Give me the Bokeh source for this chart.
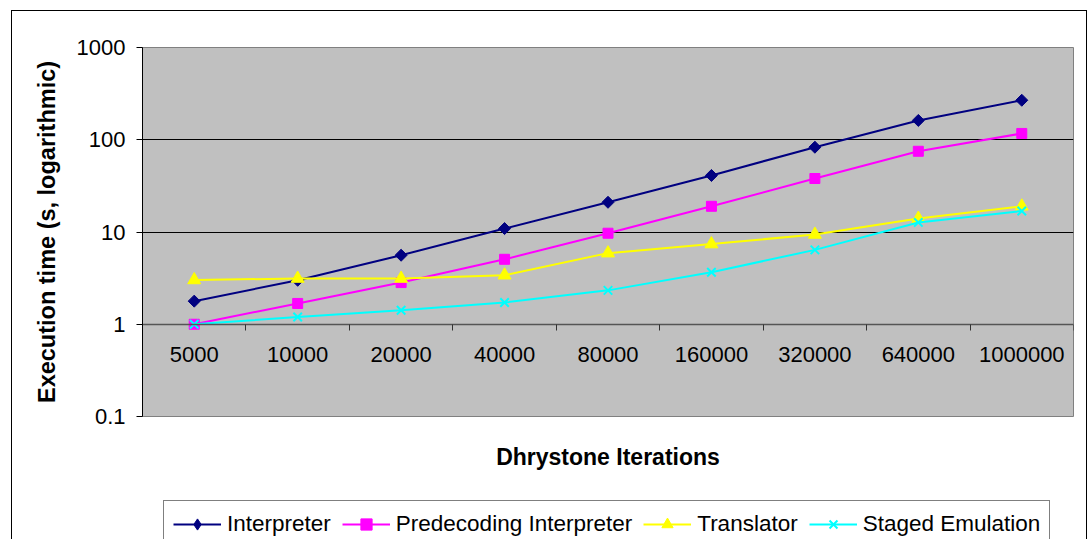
import numpy as np
from bokeh.plotting import figure
from bokeh.layouts import column
from bokeh.models import (Range1d, FixedTicker, LinearAxis, NumeralTickFormatter,
                          Legend, LegendItem)
from bokeh.core.properties import value
from bokeh.embed import file_html
from bokeh.resources import INLINE

# ---- data ----
categories = ["5000", "10000", "20000", "40000", "80000", "160000", "320000", "640000", "1000000"]
interpreter = [1.78, 3.0, 5.6, 10.9, 21.0, 41.0, 83.0, 162.0, 268.0]
predecoding = [1.0, 1.68, 2.83, 5.06, 9.7, 19.0, 38.0, 75.0, 117.0]
translator = [3.02, 3.13, 3.13, 3.4, 5.9, 7.4, 9.4, 14.0, 19.0]
staged = [1.0, 1.2, 1.42, 1.72, 2.33, 3.66, 6.4, 12.7, 16.9]
y_ticks = [0.1, 1, 10, 100, 1000]
y_grid = [10, 100, 1000]
x_cross = 1  # category axis crosses the value axis at 1

FONT = "Liberation Sans"
xs = list(range(len(categories)))
boundaries = [i - 0.5 for i in range(len(categories) + 1)]

W, H1, H2 = 1074, 485, 43
p = figure(width=W, height=H1, output_backend="svg", toolbar_location=None,
           y_axis_type="log",
           x_range=Range1d(-0.5, len(categories) - 0.5),
           y_range=Range1d(y_ticks[0], y_ticks[-1]),
           min_border_left=130, min_border_right=13,
           min_border_top=36, min_border_bottom=80)

p.background_fill_color = "#C0C0C0"
p.border_fill_color = "white"
p.outline_line_color = "#808080"
p.outline_line_width = 1

# grid
p.xgrid.visible = False
p.ygrid.ticker = FixedTicker(ticks=y_grid)
p.ygrid.grid_line_color = "#000000"
p.ygrid.grid_line_width = 1
p.ygrid.minor_grid_line_color = None

# y axis
ya = p.yaxis[0]
ya.ticker = FixedTicker(ticks=y_ticks)
ya.formatter = NumeralTickFormatter(format="0.[0]")
ya.axis_line_color = "#000000"
ya.major_tick_line_color = "#000000"
ya.major_tick_in = 0
ya.major_tick_out = 6
ya.minor_tick_line_color = None
ya.major_label_text_font = FONT
ya.major_label_text_font_size = "22px"
ya.major_label_text_color = "#000000"
ya.major_label_standoff = 11
ya.axis_label = "Execution time (s, logarithmic)"
ya.axis_label_text_font = FONT
ya.axis_label_text_font_size = "23.5px"
ya.axis_label_text_font_style = "bold"
ya.axis_label_text_color = "#000000"
ya.axis_label_standoff = 14

# bottom axis: only the title
xa = p.xaxis[0]
xa.ticker = FixedTicker(ticks=[])
xa.axis_line_color = None
xa.major_tick_line_color = None
xa.minor_tick_line_color = None
xa.major_label_text_font_size = "0px"
xa.axis_label = "Dhrystone Iterations"
xa.axis_label_text_font = FONT
xa.axis_label_text_font_size = "23px"
xa.axis_label_text_font_style = "bold"
xa.axis_label_text_color = "#000000"
xa.axis_label_standoff = 27

# category axis crossing at y = 1
ca = LinearAxis(fixed_location=x_cross, ticker=FixedTicker(ticks=boundaries))
ca.axis_line_color = "#555555"
ca.axis_line_width = 1.5
ca.major_tick_line_color = "#333333"
ca.major_tick_in = 0
ca.major_tick_out = 6
ca.minor_tick_line_color = None
ca.major_label_text_font_size = "0px"
p.add_layout(ca, "below")

# category labels below the crossing axis
p.text(x=xs, y=[x_cross] * len(xs), text=categories, y_offset=30,
       text_align="center", text_baseline="middle",
       text_font=value(FONT), text_font_size="22px", text_color="#000000")

series = [
    ("Interpreter", interpreter, "#000080", "square", "diamond", 8.5, np.pi / 4, 1),
    ("Predecoding Interpreter", predecoding, "#FF00FF", "square", "square", 10, 0, 1),
    ("Translator", translator, "#FFFF00", "triangle", "triangle", 13, 0, 1),
    ("Staged Emulation", staged, "#00FFFF", "x", "x", 12, 0, 2),
]

# legend strip below the chart (its frame is aligned with the chart's frame)
pl = figure(width=W, height=H2, output_backend="svg", toolbar_location=None,
            x_range=Range1d(-0.5, len(categories) - 0.5), y_range=Range1d(-2, -1),
            min_border=0, min_border_left=0, min_border_right=0,
            min_border_top=0, min_border_bottom=0)
pl.axis.visible = False
pl.grid.visible = False
pl.outline_line_color = None
pl.background_fill_color = "white"
pl.border_fill_color = "white"

items = []
for name, ys, col, mk, lmk, sz, ang, mlw in series:
    p.line(xs, ys, line_color=col, line_width=2)
    p.scatter(xs, ys, marker=mk, size=sz, angle=ang, fill_color=col,
              line_color=col, line_width=mlw)
    # same series in the legend strip (outside its visible range), used for legend glyphs
    ln = pl.line(xs, ys, line_color=col, line_width=2)
    sc = pl.scatter(xs, ys, marker=lmk, size=sz, fill_color=col,
                    line_color=col, line_width=mlw)
    items.append(LegendItem(label=name, renderers=[ln, sc]))

legend = Legend(items=items, orientation="horizontal", location=(21, -9))
legend.label_text_font = FONT
legend.label_text_font_size = "22.5px"
legend.label_text_color = "#000000"
legend.glyph_width = 48
legend.glyph_height = 28
legend.label_standoff = 6
legend.spacing = 11
legend.padding = 9
legend.margin = 0
legend.border_line_color = "#000000"
legend.border_line_width = 1
legend.background_fill_color = "white"
legend.background_fill_alpha = 1
pl.add_layout(legend)

layout = column(p, pl, spacing=0,
                styles={"margin-left": "11px", "margin-top": "10px",
                        "border-left": "1px solid #000000",
                        "border-top": "1px solid #000000",
                        "border-right": "1px solid #000000"})

open("out.html", "w").write(file_html(layout, INLINE))
